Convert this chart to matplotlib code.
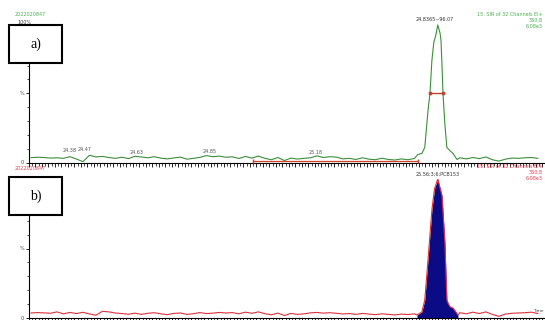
#!/usr/bin/env python3
# Two stacked SIR chromatogram traces (a: green, b: red with the integrated peak filled).

import numpy as np
import matplotlib
matplotlib.use("Agg")
import matplotlib.pyplot as plt
from matplotlib.patches import Rectangle
from matplotlib.ticker import MultipleLocator

W, H = 545, 320

# baseline noise (% of full scale), sampled evenly between the two times below; None = under the peak
base_rt_range = (24.306, 25.866)
base_a = [3.5, 3.8, 3.6, 3.2, 3.4, 3.0, 4.2, 2.5, 0.6, 5.2,
          4.0, 4.4, 3.6, 3.0, 3.8, 2.8, 4.5, 4.0, 3.4, 4.2,
          3.1, 2.6, 3.3, 3.9, 2.4, 3.0, 3.7, 5.0, 4.2, 4.6,
          3.8, 4.1, 2.9, 4.4, 3.2, 4.6, 3.0, 2.0, 3.6, 1.4,
          3.2, 2.5, 3.0, 3.4, 4.8, 3.6, 4.2, 3.9, 2.6, 3.0,
          2.2, 3.4, 2.4, 2.0, 3.1, 2.2, 1.8, 2.6, 2.0, 2.9,
          None, None, None, None, None, None, 3.4, 2.6, 3.6, 2.8,
          4.0, 2.0, 1.0, 2.4, 3.2, 3.0, 3.4, 3.6, 3.0]
base_b = [3.6, 3.9, 3.7, 3.4, 4.4, 3.0, 4.0, 3.2, 4.1, 2.9,
          2.0, 4.8, 4.4, 3.6, 3.2, 2.7, 3.5, 2.6, 3.4, 3.8,
          3.0, 2.4, 3.3, 3.6, 2.6, 3.1, 3.9, 3.2, 3.5, 4.0,
          3.6, 3.9, 3.0, 4.2, 3.4, 4.4, 3.1, 2.3, 3.5, 1.8,
          3.3, 2.6, 3.0, 3.7, 4.0, 3.5, 3.8, 3.4, 2.9, 3.2,
          2.6, 3.3, 2.8, 2.4, 3.0, 2.6, 2.2, 2.8, 2.5, 3.0,
          None, None, None, None, None, None, 3.8, 3.0, 4.2, 3.2,
          4.4, 2.6, 1.2, 2.8, 3.4, 3.6, 3.8, 4.2, 3.2]

# peak vertices (retention time in min, % of full scale)
peak_a_rt = [25.497, 25.509, 25.518, 25.528, 25.534, 25.540, 25.546, 25.552, 25.558,
             25.565, 25.568, 25.571, 25.574, 25.580, 25.586, 25.595, 25.605, 25.617]
peak_a = [5.8, 6.5, 10.9, 37.7, 50.0, 74.0, 87.0, 92.0, 99.3,
          93.5, 88.0, 70.0, 50.0, 27.0, 10.9, 8.7, 6.5, 2.2]
peak_b_rt = [25.494, 25.509, 25.518, 25.528, 25.540, 25.548, 25.558,
             25.571, 25.580, 25.586, 25.590, 25.596, 25.605, 25.614, 25.620]
peak_b = [2.2, 4.3, 13.0, 42.0, 78.0, 93.0, 100.0,
          88.0, 54.0, 13.0, 10.5, 8.0, 7.2, 4.3, 2.2]

# annotations
rt_labels = ["24.38", "24.47", "24.63", "24.85", "25.18"]
rt_label_pos = [24.426, 24.470, 24.632, 24.856, 25.183]
rt_label_lvl = [6.5, 7.5, 5.5, 6.0, 5.5]
peak_a_label = "24.8365~96.07"
peak_b_label = "25.56;3;6;PCB153"
integ_rt = (24.988, 25.497)      # integration baseline drawn under trace a
half_rt = (25.534, 25.574)       # peak width at half height
header_lines = ["15: SIR of 32 Channels EI+", "360.8", "6.08e3"]


def trace(base, prt, pint):
    rt = np.linspace(*base_rt_range, len(base))
    val = np.array([np.nan if v is None else v for v in base], dtype=float)
    keep = ~np.isnan(val)
    x = np.concatenate([rt[keep], prt])
    y = np.concatenate([val[keep], pint])
    order = np.argsort(x)
    return x[order], y[order]


def px(x, y):
    return x / W, 1 - y / H


fig = plt.figure(figsize=(W / 100, H / 100), dpi=100)
ax_a = fig.add_axes([29 / W, 1 - 162.5 / H, 516 / W, 138.5 / H])
ax_b = fig.add_axes([29 / W, 1 - 318 / H, 516 / W, 139 / H])

for ax in (ax_a, ax_b):
    ax.set_xlim(24.30, 25.888)
    ax.set_ylim(0, 100)
    ax.spines[["top", "right"]].set_visible(False)
    ax.spines[["left", "bottom"]].set_linewidth(0.8)
    ax.xaxis.set_major_locator(MultipleLocator(0.02))
    ax.xaxis.set_minor_locator(MultipleLocator(0.01))
    ax.yaxis.set_major_locator(MultipleLocator(50))
    ax.yaxis.set_minor_locator(MultipleLocator(10))
    ax.tick_params(axis="x", which="major", length=3, width=0.6, labelbottom=False)
    ax.tick_params(axis="x", which="minor", length=1.8, width=0.5)
    ax.tick_params(axis="y", which="major", length=2.5, width=0.6, labelsize=3.5,
                   pad=1, labelcolor="#444444")
    ax.tick_params(axis="y", which="minor", length=1.5, width=0.5)
    ax.set_yticks([0, 50], ["0", "%"])
    ax.patch.set_alpha(0)

# a) green trace
xa, ya = trace(base_a, peak_a_rt, peak_a)
ax_a.plot(xa, ya, color="#3a8f3a", lw=0.8, zorder=3)
ax_a.plot(integ_rt, [0.8, 0.8], color="#d0402a", lw=0.9, marker="|", ms=3, zorder=4)
ax_a.plot(half_rt, [50, 50], color="#c0442a", lw=1.0, marker="o", ms=1.8, zorder=4)
ax_a.text(np.mean(half_rt) - 0.006, 101.5, peak_a_label, fontsize=3.5, ha="center",
          va="bottom", color="#333333")
for lab, r, lv in zip(rt_labels, rt_label_pos, rt_label_lvl):
    ax_a.text(r, lv, lab, fontsize=3.5, ha="center", va="bottom", color="#555555")

# b) red trace with filled peak
xb, yb = trace(base_b, peak_b_rt, peak_b)
ax_b.fill_between(peak_b_rt, 0, peak_b, color="#0b0b86", lw=0, zorder=2)
ax_b.plot(xb, yb, color="#e0303c", lw=0.8, zorder=3)
ax_b.text(25.558, 101.5, peak_b_label, fontsize=3.5, ha="center", va="bottom", color="#333333")

# header texts
fig.text(*px(15, 14), "2022020847", fontsize=3.5, color="#4caf50", va="center")
fig.text(*px(17, 23), "100%", fontsize=3.5, color="#444444", va="center")
fig.text(*px(15, 168), "2022020847", fontsize=3.5, color="#e04050", va="center")
for i, line in enumerate(header_lines):
    fig.text(*px(543, 14 + 6 * i), line, fontsize=3.5, color="#4caf50", ha="right", va="center")
    fig.text(*px(543, 167 + 6 * i), line, fontsize=3.5, color="#e04050", ha="right", va="center")
fig.text(*px(544, 311), "Time", fontsize=3.2, color="#444444", ha="right", va="center")

# panel tags
for tag, top in (("a)", 25), ("b)", 177)):
    x0, y0 = px(9, top + 38)
    fig.patches.append(Rectangle((x0, y0), 53 / W, 38 / H, transform=fig.transFigure,
                                 facecolor="white", edgecolor="black", lw=1.5, zorder=10))
    fig.text(*px(35.5, top + 19), tag, fontsize=10, family="Liberation Serif",
             ha="center", va="center", zorder=11)

fig.savefig("out.png", dpi=100)
